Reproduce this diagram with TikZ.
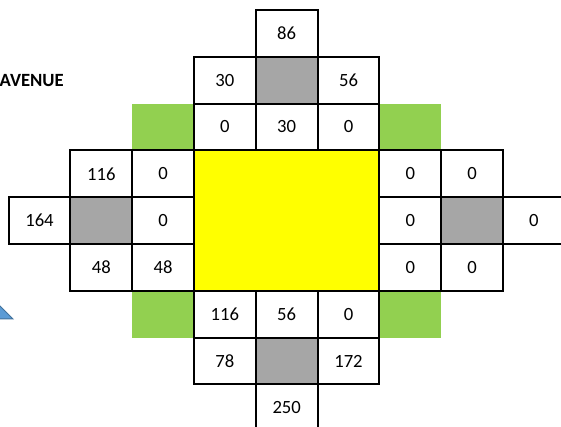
\documentclass[tikz,border=0pt]{standalone}
\usepackage{fontspec}
\setmainfont{Carlito}
\definecolor{cellgrey}{HTML}{A6A6A6}
\definecolor{cellgreen}{HTML}{92D050}
\definecolor{centreyellow}{HTML}{FFFF00}
\definecolor{arrowblue}{HTML}{5B9BD5}
\definecolor{arrowedge}{HTML}{41719C}

\begin{document}
\begin{tikzpicture}[x=0.75pt, y=-0.75pt, cell/.style={rectangle, draw, line width=1.5pt, minimum width=46.35pt, minimum height=35.1pt, inner sep=0pt, font=\fontsize{14}{16}\selectfont}, blocked/.style={cell, fill=cellgrey}, corner/.style={rectangle, fill=cellgreen, minimum width=46.35pt, minimum height=35.1pt, inner sep=0pt}, centre/.style={rectangle, draw, line width=1.5pt, fill=centreyellow, minimum width=139.05pt, minimum height=105.3pt, inner sep=0pt}]
  \useasboundingbox (0,0) rectangle (561,427);
  % corners and centre block
  \node[corner] (g2c2) at (163.1, 127.0) {};
  \node[corner] (g2c6) at (410.3, 127.0) {};
  \node[corner] (g6c2) at (163.1, 314.2) {};
  \node[corner] (g6c6) at (410.3, 314.2) {};
  \node[centre] (mid) at (286.7, 220.6) {};
  % north arm
  \node[cell] (r0c4) at (286.7, 33.4) {86};
  \node[cell] (r1c3) at (224.9, 80.2) {30};
  \node[blocked] (r1c4) at (286.7, 80.2) {};
  \node[cell] (r1c5) at (348.5, 80.2) {56};
  \node[cell] (r2c3) at (224.9, 127.0) {0};
  \node[cell] (r2c4) at (286.7, 127.0) {30};
  \node[cell] (r2c5) at (348.5, 127.0) {0};
  % west arm
  \node[cell] (r3c1) at (101.3, 173.8) {116};
  \node[cell] (r3c2) at (163.1, 173.8) {0};
  \node[cell] (r4c0) at (39.5, 220.6) {164};
  \node[blocked] (r4c1) at (101.3, 220.6) {};
  \node[cell] (r4c2) at (163.1, 220.6) {0};
  \node[cell] (r5c1) at (101.3, 267.4) {48};
  \node[cell] (r5c2) at (163.1, 267.4) {48};
  % east arm
  \node[cell] (r3c6) at (410.3, 173.8) {0};
  \node[cell] (r3c7) at (472.1, 173.8) {0};
  \node[cell] (r4c6) at (410.3, 220.6) {0};
  \node[blocked] (r4c7) at (472.1, 220.6) {};
  \node[cell] (r4c8) at (533.9, 220.6) {0};
  \node[cell] (r5c6) at (410.3, 267.4) {0};
  \node[cell] (r5c7) at (472.1, 267.4) {0};
  % south arm
  \node[cell] (r6c3) at (224.9, 314.2) {116};
  \node[cell] (r6c4) at (286.7, 314.2) {56};
  \node[cell] (r6c5) at (348.5, 314.2) {0};
  \node[cell] (r7c3) at (224.9, 361.0) {78};
  \node[blocked] (r7c4) at (286.7, 361.0) {};
  \node[cell] (r7c5) at (348.5, 361.0) {172};
  \node[cell] (r8c4) at (286.7, 407.8) {250};
  % street label and arrow tip
  \node[anchor=base east, inner sep=0pt, font=\fontsize{14}{16}\selectfont\bfseries] (street) at (64, 87) {AVENUE};
  \filldraw[fill=arrowblue, draw=arrowedge, line width=0.75pt] (-2,304) -- (13,319) -- (-2,319) -- cycle;
\end{tikzpicture}
\end{document}
